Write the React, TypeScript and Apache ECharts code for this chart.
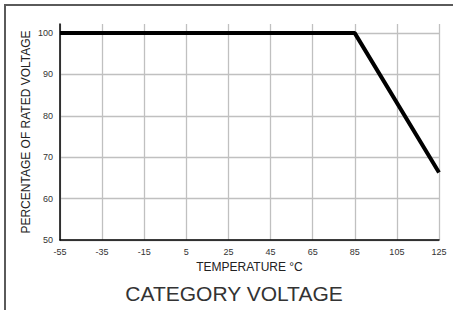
import React, { useEffect, useRef } from "react";
import * as echarts from "echarts";

// Data
const temperatures = [-55, 85, 125];
const percentRated = [100, 100, 66.3];
const xTickLabels = [-55, -35, -15, 5, 25, 45, 65, 85, 105, 125];
const yTickLabels = [50, 60, 70, 80, 90, 100];

const X_MIN = -55;
const FONT = "'Liberation Sans', Arial, sans-serif";

export default function App() {
  const ref = useRef<HTMLDivElement>(null);
  useEffect(() => {
    if (!ref.current) return;
    const chart = echarts.init(ref.current, undefined, { renderer: "svg" });
    const lineData = temperatures.map((t, i) => [t - X_MIN, percentRated[i]]);
    const grid = "#c0c0c0";
    chart.setOption({
      animation: false,
      backgroundColor: "#ffffff",
      textStyle: { fontFamily: FONT },
      title: {
        text: "CATEGORY VOLTAGE",
        left: 229,
        textAlign: "center",
        top: 278,
        textStyle: { fontSize: 21, fontWeight: "normal", color: "#333", fontFamily: FONT },
      },
      grid: { left: 60, right: 14, top: 24, bottom: 70 },
      xAxis: {
        type: "value",
        min: 0,
        max: xTickLabels[xTickLabels.length - 1] - X_MIN,
        interval: 20,
        name: "TEMPERATURE °C",
        nameLocation: "middle",
        nameGap: 21,
        nameMoveOverlap: false,
        nameTextStyle: { fontSize: 12, color: "#222", fontFamily: FONT, verticalAlign: "top" },
        axisLine: { show: true, lineStyle: { color: "#000", width: 1.5 } },
        axisTick: { show: false },
        axisLabel: {
          margin: 7,
          fontSize: 9,
          color: "#333",
          fontFamily: FONT,
          formatter: (v: number) => {
            const t = Math.round(v + X_MIN);
            return xTickLabels.includes(t) ? String(t) : "";
          },
        },
        splitLine: { show: true, lineStyle: { color: grid, width: 1.3 } },
      },
      yAxis: {
        type: "value",
        min: yTickLabels[0],
        max: 102.2,
        interval: 10,
        name: "PERCENTAGE OF RATED VOLTAGE",
        nameLocation: "middle",
        nameGap: 28,
        nameMoveOverlap: false,
        nameTextStyle: { fontSize: 12, color: "#222", fontFamily: FONT },
        axisLine: { show: true, lineStyle: { color: "#000", width: 1.5 } },
        axisTick: { show: false },
        axisLabel: {
          margin: 7,
          fontSize: 9,
          color: "#333",
          fontFamily: FONT,
          showMaxLabel: false,
          formatter: (v: number) => (yTickLabels.includes(Math.round(v * 100) / 100) ? String(v) : ""),
        },
        splitLine: {
          show: true,
          lineStyle: {
            color: [grid, grid, grid, grid, grid, grid, "rgba(0,0,0,0)"],
            width: 1.3,
          },
        },
      },
      graphic: [
        {
          type: "rect",
          shape: { x: 5, y: 5, width: 460, height: 320 },
          style: { fill: "none", stroke: "#5a5a5a", lineWidth: 2 },
          silent: true,
          z: 100,
        },
      ],
      series: [
        {
          type: "line",
          data: lineData,
          symbol: "none",
          lineStyle: { color: "#000", width: 4 },
          z: 10,
        },
      ],
    });
    return () => chart.dispose();
  }, []);
  return (
    <div
      ref={ref}
      style={{ position: "fixed", left: 0, top: 0, width: 453, height: 310 }}
    />
  );
}
